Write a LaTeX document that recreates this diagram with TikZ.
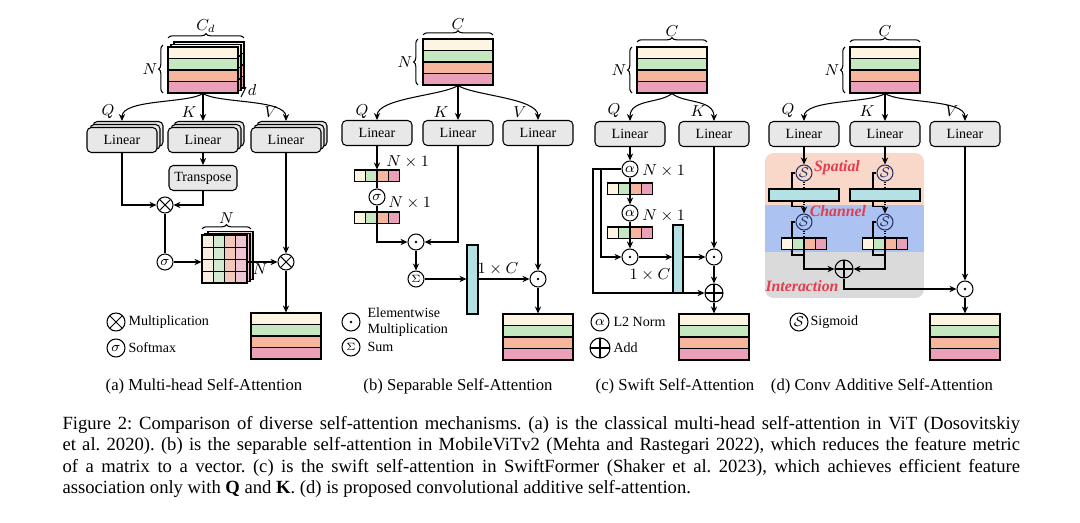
\documentclass[tikz,border=0pt]{standalone}
\usepackage{fontspec}
\setmainfont{Liberation Serif}
\usetikzlibrary{arrows.meta,calc,shadows,decorations.pathreplacing}

\definecolor{tcream}{RGB}{253,245,225}
\definecolor{tgreen}{RGB}{197,232,192}
\definecolor{torange}{RGB}{245,182,157}
\definecolor{tpink}{RGB}{233,160,184}
\definecolor{mcream}{RGB}{248,238,225}
\definecolor{mgreen}{RGB}{212,234,208}
\definecolor{morange}{RGB}{242,200,184}
\definecolor{mpink}{RGB}{238,196,210}
\definecolor{lingray}{RGB}{232,232,232}
\definecolor{tteal}{RGB}{180,226,228}
\definecolor{zspat}{RGB}{249,216,202}
\definecolor{zchan}{RGB}{172,194,240}
\definecolor{zinter}{RGB}{218,218,218}
\definecolor{zred}{RGB}{226,62,78}
\definecolor{sblue}{RGB}{30,50,100}

\tikzset{
  lin/.style={draw, rounded corners=2.5pt, fill=lingray, minimum width=1.4cm,
    minimum height=0.5cm, inner sep=0pt, font=\fontsize{8}{9}\selectfont},
  mlin/.style={lin, double copy shadow={shadow xshift=0.06cm, shadow yshift=0.06cm}},
  op/.style={circle, draw, minimum size=0.32cm, inner sep=0pt,
    font=\fontsize{8}{8}\selectfont},
  otimes/.style={op, path picture={
    \draw (path picture bounding box.north west) -- (path picture bounding box.south east)
          (path picture bounding box.north east) -- (path picture bounding box.south west);}},
  oplus/.style={op, minimum size=0.36cm, path picture={
    \draw (path picture bounding box.north) -- (path picture bounding box.south)
          (path picture bounding box.west) -- (path picture bounding box.east);}},
  odot/.style={op, path picture={\fill (path picture bounding box.center) circle (0.8pt);}},
  sig/.style={op, draw=sblue, text=sblue},
  tens/.style={minimum width=1.4cm, minimum height=0.92cm, inner sep=0pt},
  vecn/.style={minimum width=0.9cm, minimum height=0.23cm, inner sep=0pt},
  bar/.style={draw, fill=tteal, inner sep=0pt},
  lbl/.style={font=\fontsize{9}{10}\selectfont, inner sep=1pt},
  leg/.style={font=\fontsize{8}{9.5}\selectfont, anchor=west, inner sep=0pt, align=left},
  sub/.style={font=\fontsize{9.5}{11}\selectfont},
  zone/.style={font=\fontsize{9}{10}\selectfont\bfseries\itshape, text=zred},
  brc/.style={decorate, decoration={brace, amplitude=2.5pt}},
}

% four stripes of a token tensor, centre x and top y
\newcommand{\stripes}[2]{%
  \foreach \col [count=\i from 0] in {tcream,tgreen,torange,tpink}
    \draw[fill=\col] (#1-35,#2+\i*11.5) rectangle ++(70,11.5);}
% four cells of a vector, centre x and top y
\newcommand{\cells}[2]{%
  \foreach \col [count=\i from 0] in {tcream,tgreen,torange,tpink}
    \draw[fill=\col] (#1-22.5+\i*11.25,#2) rectangle ++(11.25,11.5);}

\begin{document}
\frenchspacing
\begin{tikzpicture}[x=0.02cm, y=-0.02cm, line width=0.6pt, >={Stealth[length=4pt,width=3.6pt]}]
  \useasboundingbox (0,0) rectangle (1080,523);

  % (a) multi-head self-attention
  \stripes{209}{42}
  \stripes{206}{44.5}
  \stripes{203}{47}
  \node[tens] (ina) at (203,70) {};
  \draw[brc] (168,38) -- (244,38) node[midway, above=2pt, lbl] {$C_d$};
  \draw[brc] (163,93) -- (163,45) node[midway, left=2pt, lbl] {$N$};
  \draw (241,97) -- (246,87);
  \node[lbl] at (252,90) {$d$};

  \node[mlin] (qa) at (122,140) {Linear};
  \node[mlin] (ka) at (203,140) {Linear};
  \node[mlin] (va) at (286,140) {Linear};
  \draw[->] (ina.south) .. controls ($(ina.south)+(-15,10)$) and ($(qa.north)+(0,-28)$) .. ($(qa.north)+(0,-6)$);
  \draw[->] (ina.south) -- ($(ka.north)+(0,-6)$);
  \draw[->] (ina.south) .. controls ($(ina.south)+(15,10)$) and ($(va.north)+(0,-28)$) .. ($(va.north)+(0,-6)$);
  \node[lbl] at (108,112) {$Q$};
  \node[lbl] at (189,112) {$K$};
  \node[lbl] at (271,112) {$V$};

  \node[lin, minimum width=1.36cm] (tra) at (203,178) {Transpose};
  \node[otimes] (mla) at (165,205) {};
  \node[op] (sga) at (165,262) {$\sigma$};
  \draw[->] (ka) -- (tra);
  \draw[->] (qa.south) |- (mla.west);
  \draw[->] (tra.south) |- (mla.east);
  \draw (mla) -- (sga);

  \foreach \dx/\dy in {6/-3.4,3/-1.7,0/0}{
    \foreach \col [count=\i from 0] in {mcream,mgreen,morange,mpink}
      \fill[\col] (202+\dx+\i*11.25,235+\dy) rectangle ++(11.25,48);
    \draw (202+\dx,235+\dy) rectangle ++(45,48);}
  \foreach \i in {1,2,3}{
    \draw[line width=0.4pt] (202+\i*11.25,235) -- ++(0,48);
    \draw[line width=0.4pt] (202,235+\i*12) -- ++(45,0);}
  \node[minimum width=0.9cm, minimum height=0.96cm, inner sep=0pt] (mata) at (224.5,259) {};
  \draw[brc] (202,229) -- (251,229) node[midway, above=2pt, lbl] {$N$};
  \node[lbl] at (260,269) {$N$};

  \node[otimes] (mlb) at (286,262) {};
  \draw[->] (sga) -- (sga -| mata.west);
  \draw[->] (mata.east |- sga) -- (mlb);
  \draw[->] (va) -- (mlb);
  \stripes{286}{313}
  \node[tens] (outa) at (286,336) {};
  \draw[->] (mlb) -- (outa);

  \node[otimes, minimum size=0.36cm] (lga) at (116,322) {};
  \node[leg] at (128,322) {Multiplication};
  \node[op, minimum size=0.36cm] (lgb) at (116,348) {$\sigma$};
  \node[leg] at (128,348) {Softmax};
  \node[sub] at (204,386) {(a) Multi-head Self-Attention};

  % (b) separable self-attention
  \stripes{458}{39}
  \node[tens] (inb) at (458,62) {};
  \draw[brc] (423,35) -- (493,35) node[midway, above=2pt, lbl] {$C$};
  \draw[brc] (418,85) -- (418,39) node[midway, left=2pt, lbl] {$N$};
  \node[lin] (qb) at (377,133) {Linear};
  \node[lin] (kb) at (458,133) {Linear};
  \node[lin] (vb) at (538,133) {Linear};
  \draw[->] (inb.south) .. controls ($(inb.south)+(-15,10)$) and ($(qb.north)+(0,-22)$) .. (qb.north);
  \draw[->] (inb.south) -- (kb.north);
  \draw[->] (inb.south) .. controls ($(inb.south)+(15,10)$) and ($(vb.north)+(0,-22)$) .. (vb.north);
  \node[lbl] at (362,112) {$Q$};
  \node[lbl] at (441,112) {$K$};
  \node[lbl] at (520,112) {$V$};

  \cells{377}{170}
  \node[vecn] (v1b) at (377,175.75) {};
  \node[op] (sgb) at (377,197) {$\sigma$};
  \cells{377}{212}
  \node[vecn] (v2b) at (377,217.75) {};
  \node[lbl, anchor=west] at (384,162) {$N\times 1$};
  \node[lbl, anchor=west] at (386,203) {$N\times 1$};
  \draw[->] (qb) -- (v1b);
  \draw (v1b) -- (sgb);
  \draw (sgb) -- (v2b);

  \node[odot] (m1b) at (416,242) {};
  \node[op] (smb) at (416,279) {$\scriptstyle\Sigma$};
  \node[bar, minimum width=0.22cm, minimum height=1.38cm] (barb) at (472.5,279.5) {};
  \node[odot] (m2b) at (538,279) {};
  \node[lbl] at (498,269) {$1\times C$};
  \draw[->] (v2b) |- (m1b);
  \draw[->] (kb) |- (m1b);
  \draw[->] (m1b) -- (smb);
  \draw[->] (smb) -- (smb -| barb.west);
  \draw[->] (barb.east |- m2b) -- (m2b);
  \draw[->] (vb) -- (m2b);
  \stripes{538}{314}
  \node[tens] (outb) at (538,337) {};
  \draw[->] (m2b) -- (outb);

  \node[odot, minimum size=0.36cm] (lgc) at (351,322) {};
  \node[leg] at (367,322) {Elementwise\\Multiplication};
  \node[op, minimum size=0.36cm] (lgd) at (351,347) {$\scriptstyle\Sigma$};
  \node[leg] at (367,347) {Sum};
  \node[sub] at (458,386) {(b) Separable Self-Attention};

  % (c) swift self-attention
  \stripes{672}{47}
  \node[tens] (inc) at (672,70) {};
  \draw[brc] (637,42) -- (707,42) node[midway, above=2pt, lbl] {$C$};
  \draw[brc] (632,93) -- (632,47) node[midway, left=2pt, lbl] {$N$};
  \node[lin] (qc) at (630,134) {Linear};
  \node[lin] (kc) at (714,134) {Linear};
  \draw[->] (inc.south) .. controls ($(inc.south)+(-12,10)$) and ($(qc.north)+(0,-22)$) .. (qc.north);
  \draw[->] (inc.south) .. controls ($(inc.south)+(12,10)$) and ($(kc.north)+(0,-22)$) .. (kc.north);
  \node[lbl] at (614,111) {$Q$};
  \node[lbl] at (698,111) {$K$};

  \node[op] (a1c) at (630,169) {$\alpha$};
  \cells{630}{183}
  \node[vecn] (v1c) at (630,188.75) {};
  \node[op] (a2c) at (630,213) {$\alpha$};
  \cells{630}{227}
  \node[vecn] (v2c) at (630,232.75) {};
  \node[lbl, anchor=west] at (640,171) {$N\times 1$};
  \node[lbl, anchor=west] at (640,216) {$N\times 1$};
  \node[odot] (m1c) at (630,257) {};
  \node[bar, minimum width=0.2cm, minimum height=1.36cm] (barc) at (678,259) {};
  \node[lbl] at (650,275) {$1\times C$};
  \node[odot] (m2c) at (714,257) {};
  \node[oplus] (adc) at (714,293) {};
  \coordinate (s1c) at (601,169);
  \coordinate (s2c) at (593,169);
  \draw[->] (qc) -- (a1c);
  \draw (a1c) -- (v1c);
  \draw[->] (v1c) -- (a2c);
  \draw (a2c) -- (v2c);
  \draw[->] (v2c) -- (m1c);
  \draw[->] (m1c) -- (m1c -| barc.west);
  \draw[->] (barc.east |- m2c) -- (m2c);
  \draw[->] (kc) -- (m2c);
  \draw[->] (m2c) -- (adc);
  \draw[->] (a1c.west) -- (s2c) |- (adc.west);
  \draw[->] (s1c) |- (m1c.west);
  \stripes{714}{314}
  \node[tens] (outc) at (714,337) {};
  \draw[->] (adc) -- (outc);

  \node[op, minimum size=0.36cm] (lge) at (600,322) {$\alpha$};
  \node[leg] at (613,322) {L2 Norm};
  \node[oplus, minimum size=0.4cm] (lgf) at (600,348) {};
  \node[leg] at (613,348) {Add};
  \node[sub] at (675,386) {(c) Swift Self-Attention};

  % (d) conv additive self-attention
  \begin{scope}
    \clip[rounded corners=5pt] (765,153) rectangle (924,298);
    \fill[zspat] (765,153) rectangle (924,205);
    \fill[zchan] (765,205) rectangle (924,252);
    \fill[zinter] (765,252) rectangle (924,298);
  \end{scope}

  \stripes{885}{47}
  \node[tens] (ind) at (885,70) {};
  \draw[brc] (850,42) -- (920,42) node[midway, above=2pt, lbl] {$C$};
  \draw[brc] (845,93) -- (845,47) node[midway, left=2pt, lbl] {$N$};
  \node[lin] (qd) at (804,134) {Linear};
  \node[lin] (kd) at (885,134) {Linear};
  \node[lin] (vd) at (965,134) {Linear};
  \draw[->] (ind.south) .. controls ($(ind.south)+(-15,10)$) and ($(qd.north)+(0,-22)$) .. (qd.north);
  \draw[->] (ind.south) -- (kd.north);
  \draw[->] (ind.south) .. controls ($(ind.south)+(15,10)$) and ($(vd.north)+(0,-22)$) .. (vd.north);
  \node[lbl] at (788,111) {$Q$};
  \node[lbl] at (867,111) {$K$};
  \node[lbl] at (952,111) {$V$};

  \node[sig] (sp1) at (804,173) {$\mathcal{S}$};
  \node[sig] (sp2) at (885,173) {$\mathcal{S}$};
  \node[bar, minimum width=1.4cm, minimum height=0.24cm] (cb1) at (804,195) {};
  \node[bar, minimum width=1.4cm, minimum height=0.24cm] (cb2) at (885,195) {};
  \node[sig] (ch1) at (804,222) {$\mathcal{S}$};
  \node[sig] (ch2) at (885,222) {$\mathcal{S}$};
  \cells{804}{238}
  \node[vecn] (cv1) at (804,243.75) {};
  \cells{885}{238}
  \node[vecn] (cv2) at (885,243.75) {};
  \node[zone] at (837,168) {Spatial};
  \node[zone] at (838,211) {Channel};
  \node[zone] at (802,286) {Interaction};

  \draw[->] (qd) -- (sp1);
  \draw[->] (kd) -- (sp2);
  \foreach \k in {1,2}{
    \draw (sp\k.west) -| ([xshift=-0.24cm]cb\k.north);
    \draw[densely dotted] (sp\k) -- (cb\k.north);
    \draw ([xshift=-0.24cm]cb\k.south) |- ([yshift=-0.1cm]cb\k.south);
    \draw[densely dotted] (cb\k.south) -- ([yshift=-0.1cm]cb\k.south);
    \draw[->] ([yshift=-0.1cm]cb\k.south) -- (ch\k);
    \draw (ch\k.west) -| ([xshift=-0.24cm]cv\k.north);
    \draw[densely dotted] (ch\k) -- (cv\k.north);
    \draw ([xshift=-0.24cm]cv\k.south) |- ([yshift=-0.1cm]cv\k.south);}

  \node[oplus] (add) at (844,269) {};
  \node[odot] (m1d) at (965,289) {};
  \draw[->] (cv1.south) |- (add.west);
  \draw[->] (cv2.south) |- (add.east);
  \draw[->] (add) |- (m1d);
  \draw[->] (vd) -- (m1d);
  \stripes{965}{314}
  \node[tens] (outd) at (965,337) {};
  \draw[->] (m1d) -- (outd);

  \node[op, minimum size=0.36cm] (lgs) at (799,322) {$\mathcal{S}$};
  \node[leg] at (810,322) {Sigmoid};
  \node[sub] at (882,386) {(d) Conv Additive Self-Attention};

  % caption
  \node[anchor=north west, inner sep=0pt, text width=545pt, align=justify,
    font=\fontsize{10.6}{12.1}\selectfont] (cap) at (62,416)
    {Figure 2: Comparison of diverse self-attention mechanisms. (a) is the classical multi-head self-attention in ViT (Dosovitskiy\linebreak et al. 2020). (b) is the separable self-attention in MobileViTv2 (Mehta and Rastegari 2022), which reduces the feature metric\linebreak of a matrix to a vector. (c) is the swift self-attention in SwiftFormer (Shaker et al. 2023), which achieves efficient feature\linebreak association only with \textbf{Q} and \textbf{K}. (d) is proposed convolutional additive self-attention.};
\end{tikzpicture}
\end{document}
